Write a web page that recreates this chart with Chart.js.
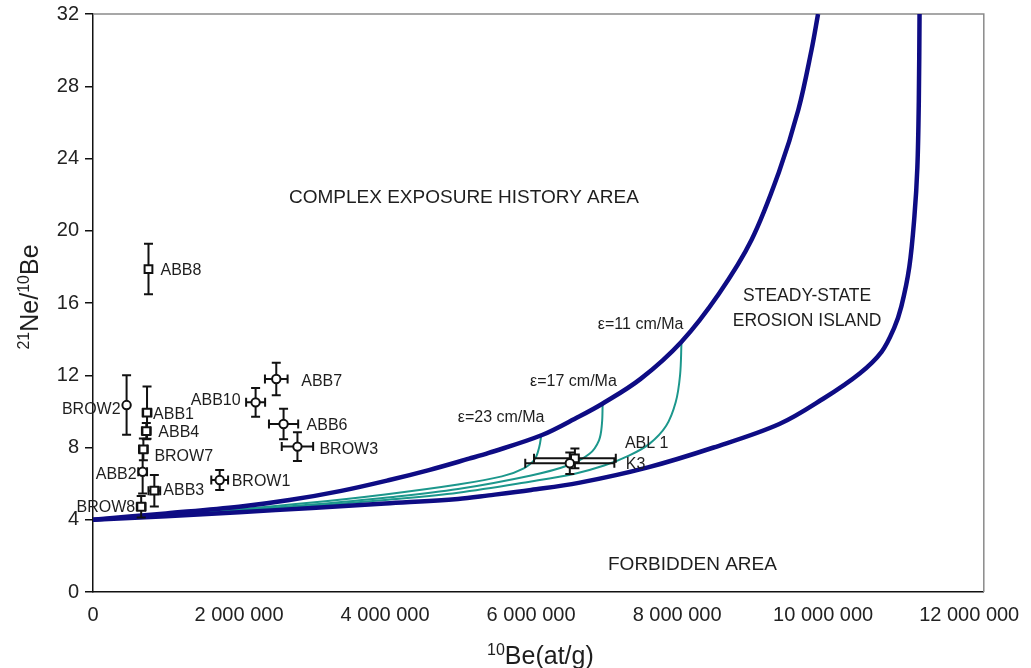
<!DOCTYPE html>
<html>
<head>
<meta charset="utf-8">
<script src="https://cdn.jsdelivr.net/npm/chart.js@4.4.0/dist/chart.umd.min.js"></script>
<style>
html, body { margin: 0; padding: 0; background: #fff; }
#wrap { width: 1031px; height: 668px; }
</style>
</head>
<body>
<div id="wrap"><canvas id="c" width="1031" height="668"></canvas></div>
<script>
/* ------------------------------------------------------------------ */
/* Data                                                                */
/* ------------------------------------------------------------------ */

const xTicks = [0, 2000000, 4000000, 6000000, 8000000, 10000000, 12000000];
const yTicks = [0, 4, 8, 12, 16, 20, 24, 28, 32];

/* samples: 10Be (at/g) and 21Ne/10Be with 1 sigma errors */
const sampleNames = ['ABB8', 'BROW2', 'ABB1', 'ABB4', 'BROW7', 'ABB2', 'ABB3', 'BROW8', 'BROW1', 'ABB10', 'ABB7', 'ABB6', 'BROW3', 'ABL 1', 'K3'];
const be10 = [760000, 460000, 740000, 730000, 690000, 680000, 840000, 660000, 1735000, 2227000, 2510000, 2610000, 2800000, 6600000, 6530000];
const ne21be10 = [17.88, 10.35, 9.93, 8.91, 7.9, 6.66, 5.61, 4.72, 6.2, 10.5, 11.79, 9.3, 8.05, 7.4, 7.13];
const be10Err = [0, 0, 60000, 60000, 60000, 60000, 80000, 60000, 115000, 130000, 155000, 200000, 215000, 560000, 610000];
const ratioErr = [1.4, 1.65, 1.45, 0.45, 0.6, 1.2, 0.87, 0.6, 0.55, 0.8, 0.9, 0.85, 0.8, 0.55, 0.6];
const markerShape = ['rect', 'circle', 'rect', 'rect', 'rect', 'circle', 'rect', 'rect', 'circle', 'circle', 'circle', 'circle', 'circle', 'rect', 'circle'];

/* constant exposure, no erosion */
const constExpBe10 = [0, 1.0e6, 2.0e6, 2.69e6, 3.4e6, 4.06e6, 4.6e6, 5.15e6, 5.42e6, 6.15e6, 6.65e6, 6.97e6, 7.5e6, 8.06e6, 8.57e6, 9.02e6, 9.39e6, 9.66e6, 9.84e6, 9.93e6];
const constExpRatio = [4.0, 4.35, 4.72, 5.09, 5.6, 6.2, 6.75, 7.38, 7.7, 8.69, 9.7, 10.41, 11.8, 13.86, 16.5, 19.5, 23.2, 26.7, 30.0, 32.0];

/* steady-state erosion */
const steadyBe10 = [0, 1e6, 2e6, 3e6, 4e6, 5e6, 5.42e6, 6e6, 6.65e6, 7.6e6, 8.5e6, 9.4e6, 10.0e6, 10.5e6, 10.8e6, 10.97e6, 11.07e6, 11.18e6, 11.25e6, 11.29e6, 11.31e6, 11.32e6];
const steadyRatio = [4.0, 4.2, 4.42, 4.65, 4.9, 5.15, 5.35, 5.65, 6.04, 6.9, 8.0, 9.3, 10.7, 12.1, 13.3, 14.6, 15.8, 18.0, 20.8, 23.5, 27.2, 32.0];

/* erosion-rate trajectories */
const eps23Be10 = [0, 1e6, 2e6, 3e6, 4e6, 5e6, 5.6e6, 5.9e6, 6.05e6, 6.11e6, 6.14e6];
const eps23Ratio = [4.0, 4.27, 4.58, 4.95, 5.4, 5.95, 6.4, 6.85, 7.35, 8.0, 8.69];

const eps17Be10 = [0, 1e6, 2e6, 3e6, 4e6, 5e6, 6e6, 6.5e6, 6.8e6, 6.93e6, 6.97e6, 6.98e6];
const eps17Ratio = [4.0, 4.24, 4.52, 4.84, 5.22, 5.7, 6.45, 7.0, 7.65, 8.4, 9.3, 10.41];

const eps11Be10 = [0, 1e6, 2e6, 3e6, 4e6, 5e6, 6e6, 6.6e6, 7.0e6, 7.34e6, 7.62e6, 7.85e6, 7.98e6, 8.04e6, 8.06e6];
const eps11Ratio = [4.0, 4.22, 4.47, 4.76, 5.1, 5.5, 6.12, 6.55, 7.0, 7.55, 8.2, 9.2, 10.5, 12.0, 13.86];

/* ------------------------------------------------------------------ */
/* Layout of the texts                                                 */
/* ------------------------------------------------------------------ */

const labelSide = ['right', 'left', 'right', 'right', 'right', 'left', 'right', 'left', 'right', 'left', 'right', 'right', 'right', 'right', 'right'];
const labelOffsets = [[12, 2], [-6, 5], [6, 2], [12, 2], [11, 7], [-6, 3], [9, 0], [-6, 1], [12, 2], [-15, -2], [25, 3], [23, 2], [22, 3], [50, -15], [56, 1]];

const areaNotes = [
	{text: 'COMPLEX EXPOSURE HISTORY AREA', x: 5.08e6, y: 21.82, size: 19},
	{text: 'STEADY-STATE', x: 9.78e6, y: 16.39, size: 17.5},
	{text: 'EROSION ISLAND', x: 9.78e6, y: 14.98, size: 17.5},
	{text: 'FORBIDDEN AREA', x: 8.21e6, y: 1.5, size: 19},
	{text: 'ε=11 cm/Ma', x: 7.5e6, y: 14.78, size: 16},
	{text: 'ε=17 cm/Ma', x: 6.58e6, y: 11.64, size: 16},
	{text: 'ε=23 cm/Ma', x: 5.59e6, y: 9.63, size: 16},
];

const FONT = '"Liberation Sans", Arial, Helvetica, sans-serif';
const NAVY = '#0e0c84';
const TEAL = '#1c978c';

/* ------------------------------------------------------------------ */

function pairs(xs, ys)
{
	return xs.map((x, i) => ({x: x, y: ys[i]}));
}

function spaced(v)
{
	return String(Math.round(v)).replace(/\B(?=(\d{3})+(?!\d))/g, ' ');
}

function curve(label, xs, ys, color, width)
{
	return {
		label: label,
		data: pairs(xs, ys),
		showLine: true,
		borderColor: color,
		borderWidth: width,
		pointRadius: 0,
		tension: 0.35,
		fill: false,
	};
}

/* draws a run of text pieces, some of them raised as superscripts */
function drawRich(ctx, parts, x, y)
{
	let total = 0;
	parts.forEach((p) => {
		ctx.font = p.size + 'px ' + FONT;
		p.w = ctx.measureText(p.t).width;
		total += p.w;
	});
	let cx = x - total / 2;
	parts.forEach((p) => {
		ctx.font = p.size + 'px ' + FONT;
		ctx.fillText(p.t, cx, y + (p.dy || 0));
		cx += p.w;
	});
}

/* ------------------------------------------------------------------ */
/* Plugins                                                             */
/* ------------------------------------------------------------------ */

const framePlugin = {
	id: 'frame',
	beforeDatasetsDraw(chart) {
		const {ctx, chartArea: a} = chart;
		ctx.save();
		ctx.strokeStyle = '#8a8a8a';
		ctx.lineWidth = 1.5;
		ctx.beginPath();
		ctx.moveTo(a.left, a.top);
		ctx.lineTo(a.right, a.top);
		ctx.lineTo(a.right, a.bottom);
		ctx.stroke();
		ctx.restore();
	},
};

const errorBarPlugin = {
	id: 'errorBars',
	beforeDatasetDraw(chart, args) {
		if (args.index !== 0) return;
		const {ctx, scales: {x, y}} = chart;
		const cap = 4.5;
		ctx.save();
		ctx.strokeStyle = '#111';
		ctx.lineWidth = 2;
		be10.forEach((v, i) => {
			const px = x.getPixelForValue(v);
			const py = y.getPixelForValue(ne21be10[i]);
			ctx.beginPath();
			if (ratioErr[i] > 0) {
				const t = y.getPixelForValue(ne21be10[i] + ratioErr[i]);
				const b = y.getPixelForValue(ne21be10[i] - ratioErr[i]);
				ctx.moveTo(px, t); ctx.lineTo(px, b);
				ctx.moveTo(px - cap, t); ctx.lineTo(px + cap, t);
				ctx.moveTo(px - cap, b); ctx.lineTo(px + cap, b);
			}
			if (be10Err[i] > 0) {
				const l = x.getPixelForValue(v - be10Err[i]);
				const r = x.getPixelForValue(v + be10Err[i]);
				ctx.moveTo(l, py); ctx.lineTo(r, py);
				ctx.moveTo(l, py - cap); ctx.lineTo(l, py + cap);
				ctx.moveTo(r, py - cap); ctx.lineTo(r, py + cap);
			}
			ctx.stroke();
		});
		ctx.restore();
	},
};

const textPlugin = {
	id: 'texts',
	afterDraw(chart) {
		const {ctx, chartArea: a, scales: {x, y}} = chart;
		ctx.save();
		ctx.fillStyle = '#1e1e1e';
		ctx.textBaseline = 'middle';

		/* sample labels */
		ctx.font = '16px ' + FONT;
		sampleNames.forEach((name, i) => {
			const px = x.getPixelForValue(be10[i]);
			const py = y.getPixelForValue(ne21be10[i]);
			ctx.textAlign = labelSide[i] === 'left' ? 'right' : 'left';
			ctx.fillText(name, px + labelOffsets[i][0], py + labelOffsets[i][1]);
		});

		/* area names and erosion rates */
		ctx.textAlign = 'center';
		areaNotes.forEach((n) => {
			ctx.font = n.size + 'px ' + FONT;
			ctx.fillText(n.text, x.getPixelForValue(n.x), y.getPixelForValue(n.y));
		});

		/* axis titles */
		ctx.textAlign = 'left';
		ctx.textBaseline = 'alphabetic';
		drawRich(ctx, [
			{t: '10', size: 16, dy: -9},
			{t: 'Be(at/g)', size: 25},
		], (a.left + a.right) / 2 + 2, 664);

		ctx.translate(38, (a.top + a.bottom) / 2 - 6);
		ctx.rotate(-Math.PI / 2);
		drawRich(ctx, [
			{t: '21', size: 16, dy: -9},
			{t: 'Ne/', size: 25},
			{t: '10', size: 16, dy: -9},
			{t: 'Be', size: 25},
		], 0, 0);
		ctx.restore();
	},
};

/* ------------------------------------------------------------------ */
/* Chart                                                               */
/* ------------------------------------------------------------------ */

const samplePoints = {
	label: 'samples',
	data: pairs(be10, ne21be10),
	pointStyle: markerShape,
	pointRadius: markerShape.map((s) => (s === 'rect' ? 5.5 : 4.2)),
	pointBorderWidth: 2,
	pointBorderColor: '#111',
	pointBackgroundColor: '#fff',
	showLine: false,
};

new Chart(document.getElementById('c').getContext('2d'), {
	type: 'scatter',
	data: {
		datasets: [
			samplePoints,
			curve('constant exposure', constExpBe10, constExpRatio, NAVY, 4.5),
			curve('steady-state erosion', steadyBe10, steadyRatio, NAVY, 4.5),
			curve('ε=23 cm/Ma', eps23Be10, eps23Ratio, TEAL, 2),
			curve('ε=17 cm/Ma', eps17Be10, eps17Ratio, TEAL, 2),
			curve('ε=11 cm/Ma', eps11Be10, eps11Ratio, TEAL, 2),
		],
	},
	options: {
		responsive: false,
		animation: false,
		layout: {padding: {left: 0, top: 14, right: 46, bottom: 0}},
		plugins: {
			legend: {display: false},
			tooltip: {enabled: false},
		},
		scales: {
			x: {
				type: 'linear',
				min: 0,
				max: 12200000,
				afterBuildTicks: (s) => { s.ticks = xTicks.map((v) => ({value: v})); },
				afterFit: (s) => { s.height = 76; },
				grid: {display: false, drawTicks: false},
				border: {color: '#111', width: 1.5},
				ticks: {
					padding: 11,
					autoSkip: false,
					maxRotation: 0,
					color: '#222',
					font: {family: FONT, size: 20},
					callback: (v) => spaced(v),
				},
			},
			y: {
				type: 'linear',
				min: 0,
				max: 32,
				afterBuildTicks: (s) => { s.ticks = yTicks.map((v) => ({value: v})); },
				afterFit: (s) => { s.width = 93; s.paddingTop = 0; s.paddingBottom = 0; },
				grid: {display: true, drawOnChartArea: false, drawTicks: true, tickLength: 8, color: '#111', lineWidth: 1.5},
				border: {color: '#111', width: 1.5},
				ticks: {
					padding: 6,
					color: '#222',
					font: {family: FONT, size: 20},
				},
			},
		},
	},
	plugins: [framePlugin, errorBarPlugin, textPlugin],
});
</script>
</body>
</html>
